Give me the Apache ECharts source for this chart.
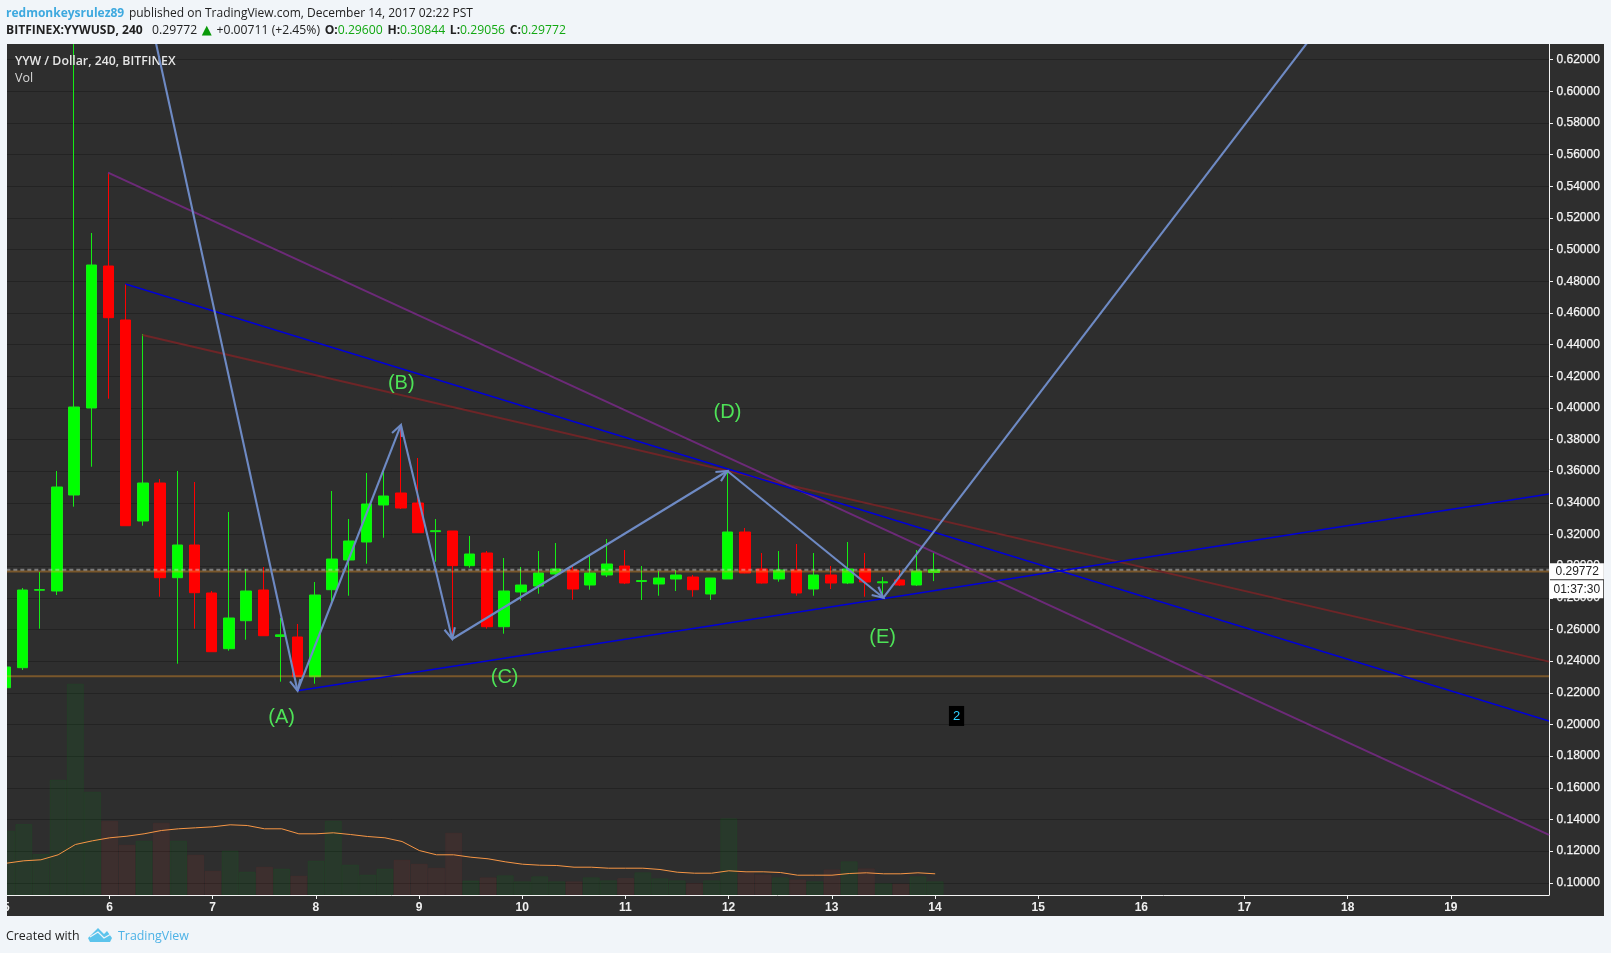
<!DOCTYPE html>
<html>
<head>
<meta charset="utf-8">
<script src="https://cdn.jsdelivr.net/npm/echarts@6/dist/echarts.min.js"></script>
<style>html,body{margin:0;padding:0;background:#f1f5f9}#c{width:1611px;height:953px}</style>
</head>
<body>
<div id="c"></div>
<script>
const times = [4.990,5.157,5.323,5.490,5.657,5.823,5.990,6.157,6.323,6.490,6.657,6.823,6.990,7.157,7.323,7.490,7.657,7.823,7.990,8.157,8.323,8.490,8.657,8.823,8.990,9.157,9.323,9.490,9.657,9.823,9.990,10.157,10.323,10.490,10.657,10.823,10.990,11.157,11.323,11.490,11.657,11.823,11.990,12.157,12.323,12.490,12.657,12.823,12.990,13.157,13.323,13.490,13.657,13.823,13.990];
const opens = [.2232,.23586,.2848,.28431,.34495,.39991,.48961,.4555,.32853,.35253,.29271,.31337,.28305,.24785,.26554,.28494,.2556,.25525,.23017,.28513,.30389,.31526,.33864,.34622,.3399,.3218,.32221,.30029,.30831,.26175,.28368,.28747,.29505,.29758,.2881,.29442,.3001,.2903,.28873,.29189,.29315,.28241,.29189,.32158,.29821,.29189,.29758,.28557,.29442,.28936,.29821,.2895,.2913,.2881,.296];
const closes = [.2363,.28494,.2852,.35001,.40054,.49025,.45696,.32556,.35253,.29271,.31337,.28323,.24596,.26725,.28431,.25607,.2566,.23017,.28178,.30452,.31589,.33927,.34432,.33674,.32113,.3224,.30029,.30768,.26175,.28431,.2881,.29568,.29821,.28557,.29568,.30136,.28936,.2909,.29252,.29442,.28513,.29252,.32158,.29568,.28936,.29758,.28305,.29442,.28936,.29821,.28999,.2901,.28809,.29694,.29772];
const lows = [.2232,.2344,.26049,.28178,.33756,.36283,.40579,.32556,.32556,.2807,.23838,.26049,.24596,.24659,.25354,.25607,.22701,.23,.22575,.27692,.28133,.30155,.31798,.3361,.32113,.30281,.25544,.29902,.26049,.25733,.27817,.28261,.29378,.27881,.28513,.29315,.2887,.27862,.28133,.28431,.2807,.27862,.29189,.2955,.289,.29018,.28133,.28133,.28557,.2887,.2807,.2807,.2875,.2875,.29056];
const highs = [.2363,.2862,.29631,.36011,.6298,.51046,.54855,.47824,.44666,.35506,.36011,.35317,.28431,.33421,.29821,.29947,.26725,.26346,.28999,.34748,.32979,.35885,.36011,.38728,.36833,.32979,.3222,.31905,.30957,.30515,.29947,.30957,.31463,.3001,.30704,.31716,.3102,.3001,.29694,.29758,.29442,.2925,.35966,.3241,.30831,.30957,.314,.30831,.3001,.31526,.30831,.2932,.29758,.3102,.30844];
const volumes = [64.3,71,41,115.3,211.3,103.3,74.3,50.3,54.3,72.3,54.3,40.3,24.3,44.3,23.3,28.3,26.3,19.3,34.3,74.3,30.3,20.3,26.3,35.3,31.3,27.3,62.3,14.5,17.7,19.7,13.7,18.7,13.7,13.7,17.7,14.7,17,22.7,16.7,14.7,12,14.7,76.7,22.7,20.7,17.7,15.7,13.7,25.7,33.7,26.7,11.7,11.3,18.7,13.7];
const volumeUp = [1,1,1,1,1,1,0,0,1,0,1,0,0,1,1,0,1,0,1,1,1,1,1,0,0,0,0,1,0,1,1,1,1,0,1,1,0,1,1,1,0,1,1,0,0,1,0,1,0,1,0,1,0,1,1];
const volumeMA = [31.8,34.2,35.2,40.2,50.5,54.2,57.2,58.8,61.2,64.5,66.2,67.2,68.2,70.2,69.5,66.2,66.2,61.2,61.2,62.2,60.5,58.5,57.2,53.5,44.5,40.2,40.2,37.8,36.2,33.2,30.8,29.8,29.5,27.8,27.8,26.8,26.8,26.8,25.5,22.8,21.8,21.8,24.2,23.2,23.2,22.5,19.8,19.8,19.8,21.5,22.2,21.2,21.2,22.2,21.2];
const priceTicks = [.10,.12,.14,.16,.18,.20,.22,.24,.26,.28,.30,.32,.34,.36,.38,.40,.42,.44,.46,.48,.50,.52,.54,.56,.58,.60,.62];
const dayTicks = [5,6,7,8,9,10,11,12,13,14,15,16,17,18,19];
const waveT = [6.45,7.822,8.824,9.321,11.988,13.5,17.776];
const waveV = [.6305,.2213,.38917,.25399,.36011,.28008,.645];
const purpleLine = [[5.986,.5486],[19.951,.1302]];
const blueUpper = [[6.155,.47824],[19.951,.2022]];
const redLine = [[6.32,.44603],[19.951,.2397]];
const blueLower = [[7.822,.2213],[19.951,.3456]];
const supportLevel = .2305;
const resistLevel = .2966;
const lastPrice = .29772;
const countdown = '01:37:30';
const waveLabels = [['(A)',7.668,.2053],['(B)',8.827,.4159],['(C)',9.829,.2306],['(D)',11.989,.398],['(E)',13.492,.2553]];
const badge = ['2',14.209,.206];

const xMin = 5, xMax = 19.951, yMin = .09227, yMax = .62986;
const F = '"Open Sans", sans-serif', A = '"Liberation Sans", Arial, sans-serif';
const PAGE = '#f1f5f9';

const candleRows = times.map((t,i)=>[t,opens[i],closes[i],lows[i],highs[i]]);
const volRows = times.map((t,i)=>({
  value:[t+.012,volumes[i]],
  itemStyle: volumeUp[i] ? {color:'rgba(0,130,23,0.13)',borderColor:'rgba(0,130,23,0.12)'} : {color:'rgba(161,54,46,0.13)',borderColor:'rgba(161,54,46,0.08)'}
}));
const arrowRows = waveT.slice(1).map((t,i)=>[waveT[i],waveV[i],t,waveV[i+1]]);
const arrowColor = '#6e8ac4';
const hiddenDot = {color:'transparent',opacity:1};

function hline(v,color,width,dash,z){
  return {type:'line',data:[[xMin,v],[xMax,v]],showSymbol:false,symbol:'none',silent:true,z,
    lineStyle:{color,width,type:dash||'solid'}};
}
function tline(pts,color,width){
  return {type:'line',data:pts,showSymbol:false,symbol:'none',silent:true,z:6,lineStyle:{color,width}};
}

const chart = echarts.init(document.getElementById('c'),null,{renderer:'canvas'});
chart.setOption({
  animation:false,
  backgroundColor:PAGE,
  textStyle:{fontFamily:F},
  title:[
    {left:6,top:5,padding:0,text:'{u|redmonkeysrulez89} {n|published on TradingView.com, December 14, 2017 02:22 PST}',
     textStyle:{fontWeight:'normal',rich:{u:{fontFamily:F,fontSize:12,fontWeight:700,color:'#3ea9df'},n:{fontFamily:F,fontSize:12,fontWeight:'normal',color:'#222'}}}},
    {left:6,top:22,padding:0,text:'{b|BITFINEX:YYWUSD, 240}  {n|0.29772} {t|▲} {n|+0.00711 (+2.45%)} {b|O:}{g|0.29600} {b|H:}{g|0.30844} {b|L:}{g|0.29056} {b|C:}{g|0.29772}',
     textStyle:{fontWeight:'normal',rich:{b:{fontFamily:F,fontSize:12.1,fontWeight:700,color:'#222'},n:{fontFamily:F,fontSize:12.2,fontWeight:'normal',color:'#222'},g:{fontFamily:F,fontSize:12.2,fontWeight:'normal',color:'#12a812'},t:{fontFamily:'"DejaVu Sans"',fontSize:13,fontWeight:'normal',color:'#0a9a0a'}}}},
    {left:15,top:55,padding:0,text:'YYW / Dollar, 240, BITFINEX',textStyle:{fontFamily:F,fontSize:12.3,fontWeight:600,color:'#e6e6e6'}},
    {left:15,top:72,padding:0,text:'Vol',textStyle:{fontFamily:F,fontSize:12.5,fontWeight:400,color:'#d8d8d8'}},
    {left:6,top:930,padding:0,text:'Created with',textStyle:{fontFamily:F,fontSize:12.4,fontWeight:400,color:'#222'}},
    {left:118,top:930,padding:0,text:'TradingView',textStyle:{fontFamily:F,fontSize:12.4,fontWeight:400,color:'#4db2e6'}}
  ],
  graphic:[
    {type:'rect',z:-100,shape:{x:7,y:44,width:1597,height:872},style:{fill:'#2e2e2e'},silent:true},
    {type:'rect',z:100,shape:{x:0,y:44,width:7,height:872},style:{fill:PAGE},silent:true},
    {type:'polygon',z:5,shape:{points:[[88,938],[98,928],[104,934],[107,931],[112,938],[110,942],[90,942]]},style:{fill:'#5cc4ec'},silent:true},
    {type:'polyline',z:6,shape:{points:[[90,937],[98,932],[104,938],[111,934]]},style:{stroke:PAGE,lineWidth:1.2,fill:'none'},silent:true}
  ],
  grid:{left:6.1,right:62,top:44,bottom:58,containLabel:false},
  xAxis:{type:'value',min:xMin,max:xMax,position:'bottom',
    axisLine:{onZero:false,lineStyle:{color:'#f4f4f4',width:1}},
    axisTick:{show:true,length:4,customValues:dayTicks,lineStyle:{color:'#f4f4f4'}},
    axisLabel:{customValues:dayTicks,margin:7,color:'#f0f0f0',fontFamily:A,fontSize:12,fontWeight:'bold',formatter:v=>String(v)},
    splitLine:{show:false}},
  yAxis:[
    {type:'value',min:yMin,max:yMax,position:'right',
     axisLine:{show:true,onZero:false,lineStyle:{color:'#f4f4f4',width:1}},
     axisTick:{show:true,length:4,customValues:priceTicks,lineStyle:{color:'#f4f4f4'}},
     axisLabel:{customValues:priceTicks,margin:7.5,color:'#f6f6f6',fontFamily:A,fontSize:12,padding:[4,0,0,0],textBorderColor:'#f6f6f6',textBorderWidth:.25,formatter:v=>v.toFixed(5)},
     splitLine:{show:true,lineStyle:{color:'#232323',width:1}}},
    {type:'value',min:0,max:851,show:false,splitLine:{show:false}}
  ],
  series:[
    {type:'bar',name:'Vol',yAxisIndex:1,data:volRows,barWidth:17,z:1,silent:true,itemStyle:{borderWidth:1}},
    {type:'line',name:'VolMA',yAxisIndex:1,data:times.map((t,i)=>[t+.012,volumeMA[i]]),showSymbol:false,symbol:'none',z:2,silent:true,lineStyle:{color:'#f79645',width:1}},
    {type:'candlestick',name:'YYWUSD',data:candleRows,encode:{x:0,y:[1,2,3,4]},barWidth:11,z:3,silent:true,
     itemStyle:{color:'#00ff00',color0:'#ff0000',borderColor:'#14ec14',borderColor0:'#ff0000',borderColorDoji:'#14ec14',borderWidth:1}},
    hline(supportLevel,'rgba(255,160,40,0.36)',2,null,4),
    hline(resistLevel,'rgba(255,160,40,0.36)',2,null,4),
    hline(lastPrice,'rgba(215,215,215,0.45)',2,[4,3],5),
    tline(redLine,'#6e2527',2),
    tline(purpleLine,'#6c2a78',2),
    tline(blueUpper,'#0000d8',1.4),
    tline(blueLower,'#0000d8',1.4),
    {type:'custom',name:'wave',data:arrowRows,clip:true,z:8,silent:true,
     encode:{x:[0,2],y:[1,3]},
     renderItem:(p,api)=>{
       const a=api.coord([api.value(0),api.value(1)]), b=api.coord([api.value(2),api.value(3)]);
       const ang=Math.atan2(a[1]-b[1],a[0]-b[0]), L=12, w=.46;
       const h1=[b[0]+L*Math.cos(ang+w),b[1]+L*Math.sin(ang+w)], h2=[b[0]+L*Math.cos(ang-w),b[1]+L*Math.sin(ang-w)];
       const st={stroke:arrowColor,lineWidth:2.1,fill:'none'};
       return {type:'group',children:[
         {type:'line',shape:{x1:a[0],y1:a[1],x2:b[0],y2:b[1]},style:st},
         {type:'polyline',shape:{points:[h1,b,h2]},style:st}
       ]};
     }},
    {type:'scatter',name:'labels',data:waveLabels.map(r=>({name:r[0],value:[r[1],r[2]]})),symbolSize:1,itemStyle:hiddenDot,z:9,silent:true,
     label:{show:true,position:'inside',offset:[0,1],formatter:'{b}',fontFamily:A,fontSize:20,color:'#4ee257'}},
    {type:'scatter',name:'badge',data:[{name:badge[0],value:[badge[1],badge[2]]}],symbolSize:1,itemStyle:hiddenDot,z:9,silent:true,
     label:{show:true,position:'inside',offset:[0,1],formatter:'{b}',fontFamily:A,fontSize:13,color:'#2fd0ff',backgroundColor:'#000',padding:[4,4,3,4]}},
    {type:'scatter',name:'tags',clip:false,symbolSize:1,itemStyle:hiddenDot,z:20,silent:true,
     data:[
      {name:lastPrice.toFixed(5),value:[xMax,lastPrice],label:{padding:[2,5,2,6],offset:[0,1.5]}},
      {name:countdown,value:[xMax,lastPrice],label:{padding:[3,3,3,4],offset:[0,19.5]}}
     ],
     label:{show:true,position:'right',distance:0,formatter:'{b}',fontFamily:A,fontSize:12,color:'#222',backgroundColor:'#fff'}}
  ]
});
</script>
</body>
</html>
